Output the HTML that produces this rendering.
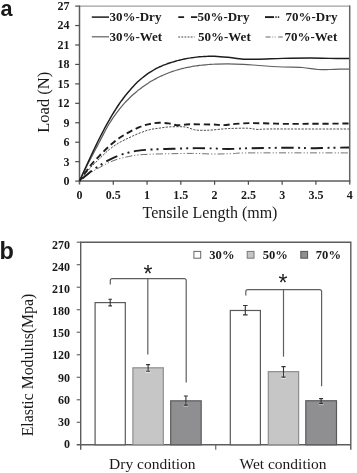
<!DOCTYPE html>
<html><head><meta charset="utf-8"><title>Figure</title>
<style>html,body{margin:0;padding:0;background:#fff}svg{display:block;will-change:transform}</style>
</head><body>
<svg width="357" height="473" viewBox="0 0 357 473">
<rect width="100%" height="100%" fill="#fff"/>
<g font-family="'Liberation Sans','DejaVu Sans',sans-serif" font-weight="bold" fill="#1a1a1a">
<text x="0.6" y="16.3" font-size="21.6">a</text><text x="-0.4" y="259.3" font-size="23.5">b</text></g>
<path d="M79.5,6.1H349.7" stroke="#a0a0a0" stroke-width="1.4" fill="none"/>
<path d="M349.7,5.3999999999999995V184.6" stroke="#646464" stroke-width="1.5" fill="none"/>
<path d="M79.5,5.3999999999999995V184.6M78.7,181.1H350.3" stroke="#5c5c5c" stroke-width="1.5" fill="none"/>
<g stroke="#4a4a4a" stroke-width="1.2" fill="none">
<line x1="75.2" y1="181.10" x2="79.5" y2="181.10"/>
<line x1="75.2" y1="161.66" x2="79.5" y2="161.66"/>
<line x1="75.2" y1="142.21" x2="79.5" y2="142.21"/>
<line x1="75.2" y1="122.77" x2="79.5" y2="122.77"/>
<line x1="75.2" y1="103.32" x2="79.5" y2="103.32"/>
<line x1="75.2" y1="83.88" x2="79.5" y2="83.88"/>
<line x1="75.2" y1="64.43" x2="79.5" y2="64.43"/>
<line x1="75.2" y1="44.99" x2="79.5" y2="44.99"/>
<line x1="75.2" y1="25.54" x2="79.5" y2="25.54"/>
<line x1="75.2" y1="6.10" x2="79.5" y2="6.10"/>
<line x1="113.28" y1="181.1" x2="113.28" y2="184.7"/>
<line x1="147.05" y1="181.1" x2="147.05" y2="184.7"/>
<line x1="180.82" y1="181.1" x2="180.82" y2="184.7"/>
<line x1="214.60" y1="181.1" x2="214.60" y2="184.7"/>
<line x1="248.38" y1="181.1" x2="248.38" y2="184.7"/>
<line x1="282.15" y1="181.1" x2="282.15" y2="184.7"/>
<line x1="315.92" y1="181.1" x2="315.92" y2="184.7"/>
</g>
<g font-family="'Liberation Serif','DejaVu Serif',serif" font-weight="bold" font-size="12" fill="#1a1a1a">
<text x="69.5" y="185.00" text-anchor="end">0</text>
<text x="69.5" y="165.56" text-anchor="end">3</text>
<text x="69.5" y="146.11" text-anchor="end">6</text>
<text x="69.5" y="126.67" text-anchor="end">9</text>
<text x="69.5" y="107.22" text-anchor="end">12</text>
<text x="69.5" y="87.78" text-anchor="end">15</text>
<text x="69.5" y="68.33" text-anchor="end">18</text>
<text x="69.5" y="48.89" text-anchor="end">21</text>
<text x="69.5" y="29.44" text-anchor="end">24</text>
<text x="69.5" y="10.00" text-anchor="end">27</text>
<text x="79.50" y="198.6" text-anchor="middle">0</text>
<text x="113.28" y="198.6" text-anchor="middle">0.5</text>
<text x="147.05" y="198.6" text-anchor="middle">1</text>
<text x="180.82" y="198.6" text-anchor="middle">1.5</text>
<text x="214.60" y="198.6" text-anchor="middle">2</text>
<text x="248.38" y="198.6" text-anchor="middle">2.5</text>
<text x="282.15" y="198.6" text-anchor="middle">3</text>
<text x="315.92" y="198.6" text-anchor="middle">3.5</text>
<text x="349.70" y="198.6" text-anchor="middle">4</text>
</g>
<g font-family="'Liberation Serif','DejaVu Serif',serif" font-size="16" fill="#1a1a1a">
<text x="142.6" y="217.5">Tensile Length (mm)</text>
<text transform="translate(48.5,102.3) rotate(-90)" text-anchor="middle" font-size="16.5">Load (N)</text>
</g>
<g fill="none" stroke-linejoin="round">
<path d="M79.5,181.1C80.0,180.0 81.5,176.8 82.5,174.8C83.5,172.7 84.5,170.7 85.5,168.7C86.5,166.7 87.5,164.7 88.5,162.8C89.5,160.9 90.5,158.9 91.5,157.0C92.5,155.1 93.5,153.2 94.5,151.3C95.5,149.4 96.5,147.5 97.5,145.6C98.5,143.7 99.5,141.8 100.5,139.9C101.5,137.9 102.5,136.0 103.5,134.1C104.5,132.2 105.5,130.3 106.5,128.5C107.5,126.7 108.5,125.0 109.5,123.3C110.5,121.7 111.5,120.1 112.5,118.6C113.5,117.1 114.5,115.7 115.5,114.3C116.5,112.9 117.5,111.6 118.5,110.3C119.5,109.0 120.5,107.8 121.5,106.6C122.5,105.4 123.5,104.3 124.5,103.2C125.5,102.1 126.5,101.0 127.5,100.0C128.5,98.9 129.5,98.0 130.5,97.0C131.5,96.0 132.5,95.1 133.5,94.2C134.5,93.3 135.5,92.5 136.5,91.7C137.5,90.8 138.5,90.0 139.5,89.3C140.5,88.5 141.5,87.8 142.5,87.0C143.5,86.3 144.5,85.6 145.5,84.9C146.5,84.3 147.5,83.6 148.5,83.0C149.5,82.3 150.5,81.7 151.5,81.1C152.5,80.5 153.5,80.0 154.5,79.4C155.5,78.9 156.5,78.3 157.5,77.8C158.5,77.3 159.5,76.8 160.5,76.3C161.5,75.9 162.5,75.4 163.5,75.0C164.5,74.5 165.5,74.1 166.5,73.7C167.5,73.3 168.5,72.9 169.5,72.5C170.5,72.1 171.5,71.8 172.5,71.4C173.5,71.1 174.5,70.8 175.5,70.5C176.5,70.1 177.5,69.8 178.5,69.6C179.5,69.3 180.5,69.0 181.5,68.7C182.5,68.5 183.5,68.2 184.5,68.0C185.5,67.8 186.5,67.6 187.5,67.4C188.5,67.1 189.5,66.9 190.5,66.8C191.5,66.6 192.5,66.4 193.5,66.2C194.5,66.1 195.5,65.9 196.5,65.8C197.5,65.7 198.5,65.5 199.5,65.4C200.5,65.3 201.5,65.2 202.5,65.1C203.5,65.0 204.5,64.9 205.5,64.8C206.5,64.7 207.5,64.6 208.5,64.5C209.5,64.4 210.5,64.4 211.5,64.3C212.5,64.3 211.8,64.2 214.5,64.2C217.2,64.1 222.9,63.8 227.7,63.8C232.5,63.8 238.2,64.0 243.4,64.3C248.6,64.6 252.5,65.0 259.0,65.5C265.5,66.0 275.4,66.7 282.6,67.0C289.8,67.3 296.3,67.1 302.2,67.5C308.1,67.9 313.3,69.2 317.9,69.5C322.5,69.8 326.1,69.5 329.6,69.5C333.1,69.5 335.8,69.2 339.0,69.2C342.2,69.2 347.3,69.2 349.0,69.2" stroke="#5e5e5e" stroke-width="1.2"/>
<path d="M79.5,181.1C80.0,180.0 81.5,176.6 82.5,174.4C83.5,172.2 84.5,170.0 85.5,167.8C86.5,165.6 87.5,163.4 88.5,161.2C89.5,159.1 90.5,156.9 91.5,154.8C92.5,152.7 93.5,150.6 94.5,148.5C95.5,146.4 96.5,144.4 97.5,142.3C98.5,140.3 99.5,138.3 100.5,136.3C101.5,134.4 102.5,132.4 103.5,130.5C104.5,128.6 105.5,126.8 106.5,124.9C107.5,123.1 108.5,121.3 109.5,119.6C110.5,117.8 111.5,116.1 112.5,114.4C113.5,112.8 114.5,111.2 115.5,109.6C116.5,108.0 117.5,106.5 118.5,105.0C119.5,103.5 120.5,102.1 121.5,100.7C122.5,99.4 123.5,98.0 124.5,96.7C125.5,95.4 126.5,94.2 127.5,93.0C128.5,91.8 129.5,90.6 130.5,89.5C131.5,88.3 132.5,87.2 133.5,86.2C134.5,85.1 135.5,84.1 136.5,83.1C137.5,82.1 138.5,81.2 139.5,80.3C140.5,79.4 141.5,78.5 142.5,77.7C143.5,76.9 144.5,76.1 145.5,75.4C146.5,74.6 147.5,73.9 148.5,73.2C149.5,72.5 150.5,71.9 151.5,71.3C152.5,70.7 153.5,70.1 154.5,69.5C155.5,69.0 156.5,68.4 157.5,67.9C158.5,67.4 159.5,67.0 160.5,66.5C161.5,66.1 162.5,65.6 163.5,65.2C164.5,64.8 165.5,64.4 166.5,64.1C167.5,63.7 168.5,63.4 169.5,63.0C170.5,62.7 171.5,62.4 172.5,62.1C173.5,61.8 174.5,61.5 175.5,61.2C176.5,60.9 177.5,60.6 178.5,60.4C179.5,60.1 180.5,59.9 181.5,59.6C182.5,59.4 183.5,59.2 184.5,59.0C185.5,58.8 186.5,58.6 187.5,58.4C188.5,58.2 189.5,58.0 190.5,57.9C191.5,57.7 192.5,57.6 193.5,57.5C194.5,57.3 195.5,57.2 196.5,57.1C197.5,57.0 198.5,56.9 199.5,56.8C200.5,56.7 201.5,56.6 202.5,56.6C203.5,56.5 204.5,56.5 205.5,56.4C206.5,56.4 207.5,56.3 208.5,56.3C209.5,56.3 210.5,56.3 211.5,56.3C212.5,56.3 211.8,56.2 214.5,56.3C217.2,56.5 222.9,56.8 227.7,57.3C232.5,57.8 238.2,58.9 243.4,59.2C248.6,59.5 252.5,59.3 259.0,59.2C265.5,59.1 274.1,58.6 282.6,58.4C291.1,58.2 302.2,58.0 310.0,58.0C317.8,58.0 323.1,58.3 329.6,58.4C336.1,58.5 345.8,58.4 349.0,58.4" stroke="#1c1c1c" stroke-width="1.45"/>
<path d="M79.5,181.1C81.2,179.0 86.3,172.3 89.6,168.6C92.9,164.9 96.1,162.0 99.4,158.8C102.7,155.6 105.9,152.3 109.2,149.6C112.5,146.9 115.7,144.8 119.0,142.8C122.3,140.9 125.5,139.5 128.8,137.9C132.1,136.3 135.2,134.8 138.6,133.5C142.0,132.2 145.8,130.7 149.2,129.8C152.6,128.9 155.7,128.7 159.0,128.2C162.3,127.7 165.3,127.2 168.8,126.9C172.3,126.7 177.1,126.7 180.0,126.7C182.9,126.8 184.1,126.7 186.5,127.2C188.9,127.7 191.9,129.3 194.5,129.8C197.1,130.3 199.1,130.3 202.0,130.3C204.9,130.3 207.7,130.3 212.0,130.0C216.3,129.7 221.8,128.9 227.7,128.6C233.6,128.3 242.4,128.1 247.3,128.2C252.2,128.3 253.8,129.3 257.1,129.4C260.4,129.5 261.3,129.1 266.9,129.0C272.4,128.9 276.7,129.0 290.4,129.0C304.1,129.0 339.2,129.0 349.0,129.0" stroke="#4a4a4a" stroke-width="1" stroke-dasharray="2.2,1.3"/>
<path d="M79.5,181.1C81.2,178.7 86.3,170.9 89.6,166.7C92.9,162.5 96.1,159.3 99.4,155.9C102.7,152.5 105.9,149.1 109.2,146.1C112.5,143.1 115.7,140.5 119.0,138.2C122.3,135.9 125.4,134.2 128.8,132.3C132.2,130.5 136.0,128.5 139.4,127.1C142.8,125.7 145.9,124.8 149.2,124.1C152.5,123.4 155.7,122.9 159.0,122.8C162.3,122.7 165.9,123.0 168.8,123.4C171.8,123.8 174.0,125.0 176.7,125.2C179.4,125.4 182.3,124.8 185.0,124.6C187.7,124.4 188.1,124.3 192.6,124.3C197.1,124.3 206.8,124.4 212.0,124.5C217.2,124.6 219.9,125.2 223.8,125.1C227.7,125.0 230.9,124.2 235.5,123.9C240.1,123.6 245.3,123.2 251.2,123.1C257.1,123.0 264.3,123.4 270.8,123.5C277.3,123.6 277.4,123.9 290.4,123.9C303.4,123.9 339.2,123.6 349.0,123.5" stroke="#1c1c1c" stroke-width="1.9" stroke-dasharray="6.2,3.7" stroke-dashoffset="-8.4"/>
<path d="M79.5,181.1C81.2,179.8 86.3,175.8 89.6,173.5C92.9,171.2 96.1,169.4 99.4,167.6C102.7,165.8 105.9,163.9 109.2,162.4C112.5,160.9 115.7,159.8 119.0,158.8C122.3,157.8 125.5,157.2 128.8,156.5C132.1,155.8 134.5,155.3 138.6,154.9C142.7,154.5 147.7,154.3 153.4,154.1C159.1,153.9 166.5,153.8 173.0,153.7C179.5,153.6 186.1,153.3 192.6,153.4C199.1,153.5 205.5,153.9 212.0,154.0C218.5,154.1 225.1,153.9 231.6,153.7C238.1,153.5 231.6,153.0 251.2,152.9C270.8,152.8 332.7,152.9 349.0,152.9" stroke="#707070" stroke-width="1" stroke-dasharray="7,2,1.2,2,1.2,2" stroke-dashoffset="-6"/>
<path d="M79.5,181.1C81.2,179.7 86.3,175.1 89.6,172.5C92.9,169.9 96.1,167.8 99.4,165.7C102.7,163.6 105.9,161.5 109.2,159.8C112.5,158.1 115.7,156.7 119.0,155.5C122.3,154.3 125.5,153.3 128.8,152.5C132.1,151.7 134.5,151.1 138.6,150.6C142.7,150.1 147.7,149.7 153.4,149.4C159.1,149.1 166.5,149.0 173.0,148.8C179.5,148.6 186.1,148.3 192.6,148.2C199.1,148.1 206.2,148.3 212.0,148.4C217.8,148.5 221.2,149.0 227.7,149.0C234.2,149.0 240.8,148.4 251.2,148.2C261.6,148.0 280.6,147.7 290.4,147.7C300.2,147.7 303.5,148.2 310.0,148.2C316.5,148.2 323.1,147.9 329.6,147.8C336.1,147.7 345.8,147.6 349.0,147.5" stroke="#1c1c1c" stroke-width="1.9" stroke-dasharray="12.2,4.6,2,4.1,2,4.6" stroke-dashoffset="-3.8"/>
</g>
<g font-family="'Liberation Serif','DejaVu Serif',serif" font-weight="bold" font-size="13" fill="#1a1a1a">
<text x="109.4" y="21.2">30%-Dry</text><text x="109.4" y="40.8">30%-Wet</text>
<text x="197.4" y="21.2">50%-Dry</text><text x="198" y="40.8">50%-Wet</text>
<text x="285.5" y="21.2">70%-Dry</text><text x="284.5" y="40.8">70%-Wet</text>
</g>
<g fill="none">
<line x1="91.8" y1="17.1" x2="109" y2="17.1" stroke="#1c1c1c" stroke-width="1.5"/>
<line x1="91.8" y1="36.8" x2="109" y2="36.8" stroke="#5e5e5e" stroke-width="1.2"/>
<path d="M178.3,17.1h5.8M191,17.1h6.2" stroke="#1c1c1c" stroke-width="1.9"/>
<line x1="178.3" y1="37" x2="194.5" y2="37" stroke="#444" stroke-width="1.1" stroke-dasharray="1.8,1.3"/>
<path d="M265,17.1h9" stroke="#1c1c1c" stroke-width="1.9"/><path d="M275.3,17.1h1.4M277.8,17.1h1.4" stroke="#333" stroke-width="1.6"/>
<path d="M265.6,37h5M278.2,37h4.6" stroke="#666" stroke-width="1.2"/><path d="M272.3,37h1M274.8,37h1" stroke="#888" stroke-width="1"/>
</g>
<path d="M80.7,241.5V449.7M80.0,242.2H351.5M350.8,241.5V449.7M76.7,444.8H351.5" stroke="#5c5c5c" stroke-width="1.4" fill="none"/>
<g stroke="#5c5c5c" stroke-width="1.1" fill="none">
<line x1="76.7" y1="422.29" x2="80.7" y2="422.29"/>
<line x1="76.7" y1="399.78" x2="80.7" y2="399.78"/>
<line x1="76.7" y1="377.27" x2="80.7" y2="377.27"/>
<line x1="76.7" y1="354.76" x2="80.7" y2="354.76"/>
<line x1="76.7" y1="332.24" x2="80.7" y2="332.24"/>
<line x1="76.7" y1="309.73" x2="80.7" y2="309.73"/>
<line x1="76.7" y1="287.22" x2="80.7" y2="287.22"/>
<line x1="76.7" y1="264.71" x2="80.7" y2="264.71"/>
<line x1="76.7" y1="242.20" x2="80.7" y2="242.20"/>
<line x1="215.75" y1="444.8" x2="215.75" y2="449.7"/>
</g>
<g font-family="'Liberation Serif','DejaVu Serif',serif" font-weight="bold" font-size="12" fill="#1a1a1a">
<text x="70" y="447.70" text-anchor="end">0</text>
<text x="70" y="425.64" text-anchor="end">30</text>
<text x="70" y="403.58" text-anchor="end">60</text>
<text x="70" y="381.52" text-anchor="end">90</text>
<text x="70" y="359.46" text-anchor="end">120</text>
<text x="70" y="337.40" text-anchor="end">150</text>
<text x="70" y="315.34" text-anchor="end">180</text>
<text x="70" y="293.28" text-anchor="end">210</text>
<text x="70" y="271.22" text-anchor="end">240</text>
<text x="70" y="249.16" text-anchor="end">270</text>
</g>
<rect x="95.1" y="302.60" width="30.2" height="142.20" fill="#ffffff" stroke="#5a5a5a" stroke-width="1.2"/>
<path d="M110.2,299.2V305.9M108.4,299.2h3.6M108.4,305.9h3.6" stroke="#333" stroke-width="1.1" fill="none"/>
<rect x="132.9" y="367.81" width="30.4" height="76.99" fill="#c6c6c6" stroke="#8e8e8e" stroke-width="1.2"/>
<path d="M148.1,369.0V371.3M145.7,371.9h4.8" stroke="#e2e2e2" stroke-width="2.4" fill="none"/>
<path d="M148.1,364.6V371.3M146.1,364.6h4M146.1,371.3h4" stroke="#333" stroke-width="1.1" fill="none"/>
<rect x="170.7" y="400.83" width="30.5" height="43.97" fill="#8f8f92" stroke="#5a5a5a" stroke-width="1.2"/>
<path d="M185.9,402.0V405.1M183.5,405.7h4.8" stroke="#b4b4b6" stroke-width="2.4" fill="none"/>
<path d="M185.9,396.0V405.1M183.9,396.0h4M183.9,405.1h4" stroke="#333" stroke-width="1.1" fill="none"/>
<rect x="230.3" y="310.48" width="30.1" height="134.32" fill="#ffffff" stroke="#5a5a5a" stroke-width="1.2"/>
<path d="M245.3,305.5V314.9M243.0,305.5h4.6M243.0,314.9h4.6" stroke="#333" stroke-width="1.1" fill="none"/>
<rect x="268.3" y="371.64" width="30.3" height="73.16" fill="#c6c6c6" stroke="#8e8e8e" stroke-width="1.2"/>
<path d="M283.5,372.8V377.1M281.0,377.7h5.0" stroke="#e2e2e2" stroke-width="2.4" fill="none"/>
<path d="M283.5,366.6V377.1M281.4,366.6h4.2M281.4,377.1h4.2" stroke="#333" stroke-width="1.1" fill="none"/>
<rect x="305.8" y="400.75" width="30.7" height="44.05" fill="#8f8f92" stroke="#5a5a5a" stroke-width="1.2"/>
<path d="M321.1,402.0V403.4M318.8,404.0h4.8" stroke="#b4b4b6" stroke-width="2.4" fill="none"/>
<path d="M321.1,398.6V403.4M319.1,398.6h4M319.1,403.4h4" stroke="#333" stroke-width="1.1" fill="none"/>
<g stroke="#606060" stroke-width="1.2" fill="none">
<path d="M110.3,284.4V280.6Q110.3,278.6 112.3,278.6H184.2Q186.2,278.6 186.2,280.6V382.6"/>
<path d="M147.8,278.6V354.4"/>
<path d="M245.8,295.4V291.7Q245.8,289.7 247.8,289.7H319.6Q321.6,289.7 321.6,291.7V386.3"/>
<path d="M283.5,289.7V356.7"/>
</g>
<g font-family="'Liberation Sans','DejaVu Sans',sans-serif" font-size="23" fill="#1a1a1a" text-anchor="middle">
<text x="148.1" y="281.7">*</text><text x="283.1" y="291.4">*</text></g>
<rect x="193.9" y="251.4" width="6.8" height="6.8" fill="#fff" stroke="#666" stroke-width="1"/>
<rect x="247.2" y="251.4" width="6.8" height="6.8" fill="#c6c6c6" stroke="#777" stroke-width="1"/>
<rect x="300.8" y="251.4" width="6.8" height="6.8" fill="#8f8f93" stroke="#555" stroke-width="1"/>
<g font-family="'Liberation Serif','DejaVu Serif',serif" font-weight="bold" font-size="12.6" fill="#1a1a1a">
<text x="209.3" y="258.9">30%</text><text x="262.7" y="258.9">50%</text><text x="315.8" y="258.9">70%</text></g>
<g font-family="'Liberation Serif','DejaVu Serif',serif" font-size="15.5" fill="#1a1a1a">
<text x="152.3" y="468.5" text-anchor="middle">Dry condition</text>
<text x="283" y="468.5" text-anchor="middle">Wet condition</text>
<text transform="translate(32.8,365.0) rotate(-90)" text-anchor="middle" font-size="15.8">Elastic Modulus(Mpa)</text>
</g>
</svg>
</body></html>
